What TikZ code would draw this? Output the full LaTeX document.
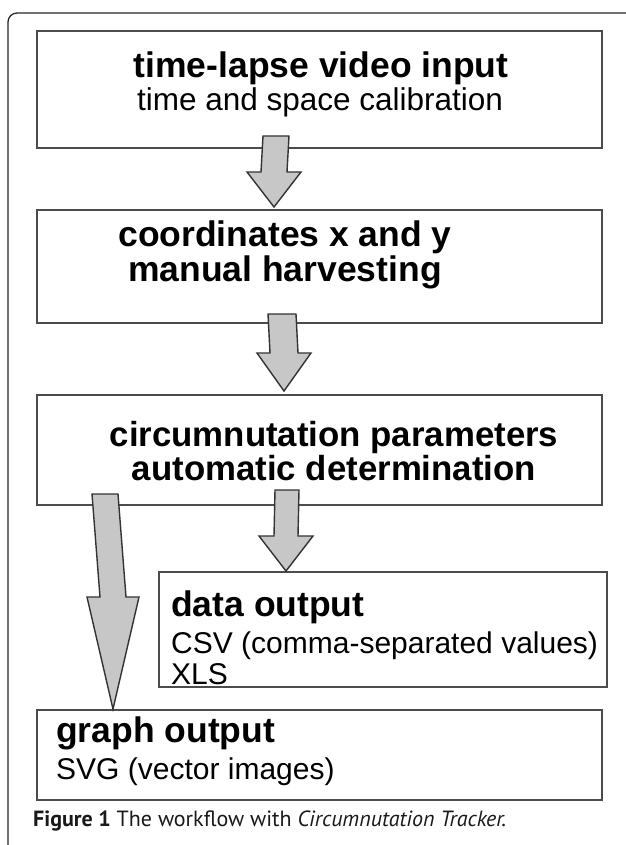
\documentclass[tikz,border=0pt]{standalone}
\usepackage{fontspec}
\setmainfont{Liberation Sans}
\newfontfamily\flowfont{Liberation Sans}
\newfontfamily\captionfont{PT Sans}
\usetikzlibrary{positioning, calc}
\tikzset{%
	box/.style={draw=black!70, line width=1.8pt, rectangle, inner sep=0pt, outer sep=0pt},
	head/.style={font=\flowfont\bfseries\fontsize{35.5}{40}\selectfont, inner sep=0pt, anchor=base},
	sub/.style={font=\flowfont\fontsize{30}{35}\selectfont, inner sep=0pt, anchor=base},
	flow/.style={draw=black!80, fill=black!22, line width=1.4pt, line join=miter},
	frame/.style={draw=black!85, line width=1.3pt, rounded corners=9pt}
}
% fat block arrow: start, tip, shaft half width, head half width, head length
\newcommand{\blockarrow}[5]{%
	\draw[flow] ($(#1)+(-#3,0)$) -- ($(#2)+(-#3,-#5)$) -- ($(#2)+(-#4,-#5)$) -- (#2)
		-- ($(#2)+(#4,-#5)$) -- ($(#2)+(#3,-#5)$) -- ($(#1)+(#3,0)$) -- cycle;}

\begin{document}
\begin{tikzpicture}[x=1pt, y=-1pt]
	\useasboundingbox (0,0) rectangle (625,845);
	\draw[frame] (630,13) -- (8,13) -- (8,850);

	% the five steps
	\node[box, minimum width=565pt, minimum height=117pt] (video) at (319.5,89.5) {};
	\node[box, minimum width=565pt, minimum height=113pt, below=62pt of video] (coords) {};
	\node[box, minimum width=565pt, minimum height=110pt, below=72pt of coords] (params) {};
	\node[box, minimum width=448pt, minimum height=115pt, below right=67pt and 122pt of params.south west] (data) {};
	\node[box, minimum width=565pt, minimum height=90pt, below right=205pt and 0pt of params.south west] (graph) {};

	\node[head] (video-t) at (321,78) {time-lapse video input};
	\node[sub, font=\flowfont\fontsize{31.5}{36}\selectfont] (video-s) at (320,111) {time and space calibration};
	\node[head] (coords-t) at (285,246) {coordinates x and y};
	\node[head] (coords-s) at (285,281) {manual harvesting};
	\node[head, font=\flowfont\bfseries\fontsize{34.8}{40}\selectfont] (params-t) at (334,446) {circumnutation parameters};
	\node[head, font=\flowfont\bfseries\fontsize{34.8}{40}\selectfont] (params-s) at (334,480) {automatic determination};
	\node[head, anchor=base west] (data-t) at (171,616) {data output};
	\node[sub, anchor=base west] (data-s1) at (171,653) {CSV (comma-separated values)};
	\node[sub, anchor=base west] (data-s2) at (171,684) {XLS};
	\node[head, anchor=base west] (graph-t) at (56,742) {graph output};
	\node[sub, anchor=base west] (graph-s) at (56,779) {SVG (vector images)};

	% arrows between the steps
	\coordinate (a1) at ($(video.south west)+(239,-12)$);
	\coordinate (a1-tip) at ($(a1 |- coords.north)+(-2,-3)$);
	\coordinate (a2) at ($(coords.south west)+(245,-9)$);
	\coordinate (a2-tip) at ($(a2 |- params.north)+(2,-4)$);
	\coordinate (a3) at ($(params.south west)+(250,-15)$);
	\coordinate (a3-tip) at ($(a3 |- data.north)+(-1,-1)$);
	\coordinate (a4) at ($(params.south west)+(68,-11)$);
	\coordinate (a4-tip) at ($(a4 |- graph.north)+(8,-1)$);
	\blockarrow{a1}{a1-tip}{13}{27}{35}
	\blockarrow{a2}{a2-tip}{14}{27}{38}
	\blockarrow{a3}{a3-tip}{12}{27}{35}
	\blockarrow{a4}{a4-tip}{13}{26}{112}

	\node[anchor=base west, inner sep=0pt, font=\captionfont\fontsize{22}{26}\selectfont, text=black!90] (caption) at (33,826)
		{\textbf{Figure 1} The workflow with \textit{Circumnutation Tracker.}};
\end{tikzpicture}
\end{document}
